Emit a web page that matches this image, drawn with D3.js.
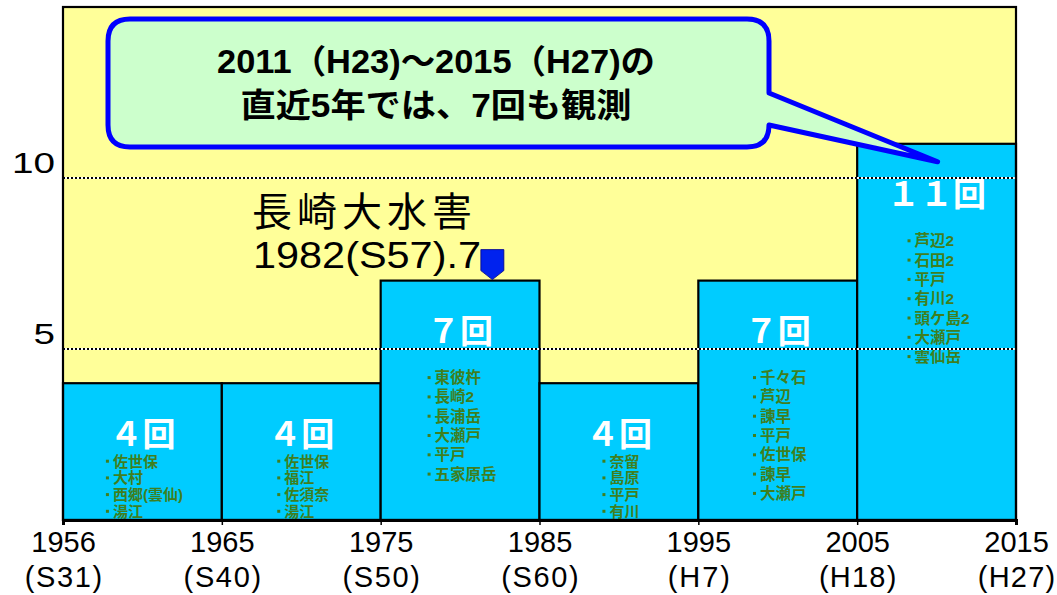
<!DOCTYPE html>
<html><head><meta charset="utf-8">
<script src="https://cdn.jsdelivr.net/npm/d3@7"></script>
<style>
html,body{margin:0;padding:0;background:#fff;}
svg{display:block;}
</style>
</head><body>
<svg id="chart" width="1057" height="595"></svg>
<script>
// ---- data ----
const boundaryYears = [1956, 1965, 1975, 1985, 1995, 2005, 2015];
const eraLabels = ["(S31)", "(S40)", "(S50)", "(S60)", "(H7)", "(H18)", "(H27)"];
const counts = [4, 4, 7, 4, 7, 11];
const countLabels = ["４回", "４回", "７回", "４回", "７回", "１１回"];
const stations1 = ["佐世保", "大村", "西郷(雲仙)", "湯江"];
const stations2 = ["佐世保", "福江", "佐須奈", "湯江"];
const stations3 = ["東彼杵", "長崎2", "長浦岳", "大瀬戸", "平戸", "五家原岳"];
const stations4 = ["奈留", "島原", "平戸", "有川"];
const stations5 = ["千々石", "芦辺", "諫早", "平戸", "佐世保", "諫早", "大瀬戸"];
const stations6 = ["芦辺2", "石田2", "平戸", "有川2", "頭ケ島2", "大瀬戸", "雲仙岳"];
const stationLists = [stations1, stations2, stations3, stations4, stations5, stations6];
const yTicks = [5, 10];
const yMax = 15;
const disasterYear = 1982;
const disasterValue = 7;
const disasterTitle = "長崎大水害";
const disasterDate = "1982(S57).7";
const calloutLines = ["2011（H23)～2015（H27)の", "直近5年では、7回も観測"];

// ---- layout ----
const svg = d3.select("#chart");
const L = 63, R = 1016, T = 7, B = 520;
const x = d3.scalePoint().domain(boundaryYears).range([L, R]);
const y = d3.scaleLinear().domain([0, yMax]).range([B, T]);
const step = x.step();
const FONT = "'Liberation Sans', Arial, 'Noto Sans CJK JP', sans-serif";

// plot background
svg.append("rect").attr("x", L).attr("y", T).attr("width", R - L).attr("height", B - T)
  .attr("fill", "#FFFF99");

// bars
const periods = counts.map((c, i) => ({ c, i, x0: x(boundaryYears[i]), x1: x(boundaryYears[i + 1]), label: countLabels[i], list: stationLists[i] }));
svg.append("g").selectAll("rect").data(periods).join("rect")
  .attr("x", d => d.x0).attr("y", d => y(d.c))
  .attr("width", d => d.x1 - d.x0).attr("height", d => y(0) - y(d.c))
  .attr("fill", "#00CCFF").attr("stroke", "#000").attr("stroke-width", 2.2);

// station lists
const listG = svg.append("g");
periods.forEach(d => {
  const small = d.c <= 4;
  const top = y(d.c);
  const start = top + (small ? 78 : 97);
  const gap = small ? 16.7 : 19.3;
  const fs = small ? 15 : 15.5;
  const g = listG.append("g");
  g.selectAll("rect").data(d.list).join("rect")
    .attr("x", 0).attr("y", (s, k) => start + k * gap - 1.5)
    .attr("width", 3).attr("height", 3).attr("fill", "#3F7F1F");
  const texts = g.selectAll("text").data(d.list).join("text")
    .attr("x", 7).attr("y", (s, k) => start + k * gap)
    .attr("dominant-baseline", "central")
    .attr("font-family", FONT).attr("font-weight", "bold").attr("font-size", fs)
    .attr("fill", "#3F7F1F")
    .text(s => s);
  let w = 0;
  texts.each(function () { w = Math.max(w, this.getComputedTextLength() + 7); });
  const cx = (d.x0 + d.x1) / 2 + 2;
  g.attr("transform", `translate(${cx - w / 2},0)`);
});

// grid lines (dotted)
const grid = svg.append("g");
yTicks.forEach(t => {
  grid.append("line").attr("x1", L).attr("x2", R).attr("y1", y(t)).attr("y2", y(t))
    .attr("stroke", "#fff").attr("stroke-width", 2);
  grid.append("line").attr("x1", L).attr("x2", R).attr("y1", y(t)).attr("y2", y(t))
    .attr("stroke", "#000").attr("stroke-width", 2).attr("stroke-dasharray", "2,2");
});

// count labels
svg.append("g").selectAll("text").data(periods).join("text")
  .attr("x", d => (d.x0 + d.x1) / 2).attr("y", d => y(d.c) + 51)
  .attr("text-anchor", "middle").attr("dominant-baseline", "central")
  .attr("font-family", FONT).attr("font-weight", "bold").attr("font-size", 33)
  .attr("fill", "#fff")
  .text(d => d.label);

// frame
svg.append("rect").attr("x", L).attr("y", T).attr("width", R - L).attr("height", B - T)
  .attr("fill", "none").attr("stroke", "#000").attr("stroke-width", 2.2);

// x axis
const xAxis = d3.axisBottom(x).tickSize(5).tickFormat("");
const xg = svg.append("g").attr("transform", `translate(0,${B})`).call(xAxis);
xg.select(".domain").attr("stroke", "#000").attr("stroke-width", 3);
xg.selectAll(".tick line").attr("stroke", "#000").attr("stroke-width", 1.5);
xg.selectAll(".tick").append("text").attr("class", "yr")
  .attr("y", 32).attr("fill", "#000").attr("text-anchor", "middle")
  .attr("font-family", FONT).attr("font-size", 29)
  .text(d => d);
xg.selectAll(".tick").append("text").attr("class", "era")
  .attr("y", 67).attr("fill", "#000").attr("text-anchor", "middle")
  .attr("font-family", FONT).attr("font-size", 29)
  .attr("textLength", (d, i) => eraLabels[i].length * 15.5).attr("lengthAdjust", "spacing")
  .text((d, i) => eraLabels[i]);

// y axis labels
const yAxis = d3.axisLeft(y).tickValues(yTicks).tickSize(0).tickPadding(8).tickFormat(d3.format("d"));
const yg = svg.append("g").attr("transform", `translate(${L},0)`).call(yAxis);
yg.select(".domain").remove();
yg.selectAll(".tick text").attr("font-family", FONT).attr("font-size", 29)
  .attr("fill", "#000").attr("dy", "-0.2em")
  .attr("textLength", d => String(d).length * 21.5).attr("lengthAdjust", "spacingAndGlyphs");

// disaster annotation
const dIdx = boundaryYears.findIndex((b, i) => disasterYear >= b && disasterYear < boundaryYears[i + 1]);
const dx = x(boundaryYears[dIdx]) + (disasterYear - boundaryYears[dIdx]) / (boundaryYears[dIdx + 1] - boundaryYears[dIdx]) * step;
const dy = y(disasterValue);
svg.append("path")
  .attr("d", `M${dx - 11},${dy - 31} H${dx + 12} V${dy - 10} L${dx + 0.5},${dy - 1} L${dx - 11},${dy - 10} Z`)
  .attr("fill", "#0022EE").attr("stroke", "#000088").attr("stroke-width", 0.8);
svg.append("text").attr("x", 252).attr("y", 226)
  .attr("font-family", FONT).attr("font-size", 40).attr("fill", "#000")
  .attr("textLength", 220).attr("lengthAdjust", "spacing")
  .text(disasterTitle);
svg.append("text").attr("x", 253).attr("y", 268)
  .attr("font-family", FONT).attr("font-size", 36).attr("fill", "#000")
  .attr("textLength", 228).attr("lengthAdjust", "spacingAndGlyphs")
  .text(disasterDate);

// callout
const bx0 = 108, by0 = 19, bx1 = 769, by1 = 147, r = 22;
const tipX = (x(2005) + x(2015)) / 2 + 1, tipY = y(counts[5]) + 18;
const cp = `M${bx0 + r},${by0} H${bx1 - r} Q${bx1},${by0} ${bx1},${by0 + r} V93 L${tipX},${tipY} L${bx1},125 V${by1 - r} Q${bx1},${by1} ${bx1 - r},${by1} H${bx0 + r} Q${bx0},${by1} ${bx0},${by1 - r} V${by0 + r} Q${bx0},${by0} ${bx0 + r},${by0} Z`;
svg.append("path").attr("d", cp).attr("fill", "#CCFFCC")
  .attr("stroke", "#0000FF").attr("stroke-width", 5).attr("stroke-linejoin", "round");
const cx = 436;
svg.append("text").attr("x", cx).attr("y", 61).attr("text-anchor", "middle").attr("dominant-baseline", "central")
  .attr("font-family", FONT).attr("font-weight", "bold").attr("font-size", 33).attr("fill", "#000")
  .attr("textLength", 438).attr("lengthAdjust", "spacingAndGlyphs")
  .text(calloutLines[0]);
svg.append("text").attr("x", cx).attr("y", 105).attr("text-anchor", "middle").attr("dominant-baseline", "central")
  .attr("font-family", FONT).attr("font-weight", "bold").attr("font-size", 33).attr("fill", "#000")
  .attr("textLength", 391).attr("lengthAdjust", "spacingAndGlyphs")
  .text(calloutLines[1]);
</script>
</body></html>
